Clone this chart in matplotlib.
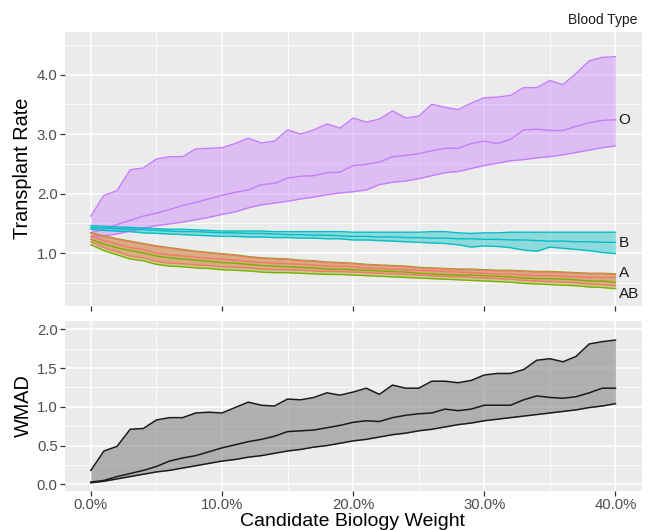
import matplotlib
matplotlib.use("Agg")
import matplotlib.pyplot as plt
from matplotlib.ticker import FuncFormatter, MultipleLocator

plt.rcParams['font.family'] = ['Liberation Sans', 'DejaVu Sans']

# candidate biology weight (fraction)
weight = [i / 100 for i in range(41)]

# Transplant rate ribbons (lower, mid, upper) per blood type
o_hi = [1.62, 1.97, 2.05, 2.40, 2.43, 2.58, 2.62, 2.62, 2.75, 2.76, 2.77, 2.84, 2.93, 2.85,
        2.88, 3.07, 3.00, 3.07, 3.17, 3.10, 3.27, 3.20, 3.25, 3.39, 3.27, 3.30, 3.50, 3.45,
        3.41, 3.52, 3.61, 3.62, 3.65, 3.78, 3.78, 3.90, 3.83, 4.02, 4.23, 4.29, 4.30]
o_mid = [1.34, 1.40, 1.48, 1.55, 1.62, 1.67, 1.73, 1.80, 1.85, 1.91, 1.97, 2.02, 2.06, 2.15,
         2.17, 2.26, 2.29, 2.30, 2.35, 2.36, 2.47, 2.49, 2.53, 2.62, 2.64, 2.67, 2.72, 2.76,
         2.76, 2.84, 2.88, 2.84, 2.91, 3.07, 3.08, 3.06, 3.06, 3.13, 3.19, 3.23, 3.24]
o_lo = [1.27, 1.29, 1.32, 1.37, 1.42, 1.46, 1.49, 1.52, 1.56, 1.60, 1.65, 1.69, 1.76, 1.81,
        1.84, 1.87, 1.91, 1.94, 1.98, 2.01, 2.03, 2.06, 2.15, 2.19, 2.21, 2.25, 2.30, 2.35,
        2.37, 2.42, 2.47, 2.51, 2.55, 2.57, 2.60, 2.62, 2.65, 2.69, 2.73, 2.77, 2.80]

b_hi = [1.46, 1.45, 1.44, 1.43, 1.42, 1.41, 1.40, 1.40, 1.39, 1.38, 1.37, 1.37, 1.37, 1.37,
        1.36, 1.36, 1.36, 1.36, 1.36, 1.36, 1.35, 1.35, 1.35, 1.35, 1.35, 1.35, 1.36, 1.36,
        1.34, 1.33, 1.34, 1.34, 1.35, 1.35, 1.35, 1.35, 1.35, 1.35, 1.35, 1.35, 1.35]
b_mid = [1.43, 1.42, 1.41, 1.40, 1.39, 1.38, 1.37, 1.36, 1.36, 1.35, 1.34, 1.34, 1.33, 1.33,
         1.32, 1.31, 1.31, 1.30, 1.30, 1.29, 1.28, 1.28, 1.27, 1.27, 1.26, 1.26, 1.25, 1.25,
         1.24, 1.24, 1.23, 1.23, 1.22, 1.22, 1.21, 1.20, 1.20, 1.19, 1.19, 1.18, 1.18]
b_lo = [1.40, 1.38, 1.37, 1.36, 1.34, 1.33, 1.32, 1.31, 1.30, 1.29, 1.28, 1.28, 1.27, 1.27,
        1.26, 1.26, 1.25, 1.25, 1.24, 1.24, 1.22, 1.22, 1.21, 1.20, 1.19, 1.18, 1.17, 1.16,
        1.14, 1.10, 1.12, 1.11, 1.09, 1.05, 1.03, 1.10, 1.08, 1.06, 1.04, 1.01, 0.99]

a_hi = [1.33, 1.28, 1.23, 1.19, 1.15, 1.11, 1.08, 1.05, 1.02, 1.00, 0.98, 0.96, 0.93, 0.91,
        0.90, 0.89, 0.87, 0.86, 0.84, 0.83, 0.82, 0.80, 0.79, 0.78, 0.77, 0.75, 0.74, 0.73,
        0.72, 0.72, 0.71, 0.70, 0.70, 0.69, 0.68, 0.68, 0.67, 0.66, 0.65, 0.65, 0.64]
a_mid = [1.28, 1.21, 1.15, 1.09, 1.06, 1.00, 0.97, 0.95, 0.93, 0.91, 0.90, 0.88, 0.86, 0.84,
         0.83, 0.82, 0.81, 0.80, 0.78, 0.78, 0.77, 0.75, 0.74, 0.73, 0.72, 0.71, 0.70, 0.69,
         0.68, 0.67, 0.66, 0.65, 0.65, 0.63, 0.62, 0.62, 0.61, 0.60, 0.59, 0.59, 0.59]
a_lo = [1.19, 1.09, 1.02, 0.95, 0.92, 0.86, 0.83, 0.82, 0.80, 0.79, 0.77, 0.76, 0.75, 0.73,
        0.72, 0.72, 0.71, 0.70, 0.69, 0.69, 0.68, 0.67, 0.66, 0.65, 0.64, 0.63, 0.62, 0.61,
        0.60, 0.59, 0.58, 0.57, 0.56, 0.54, 0.53, 0.52, 0.51, 0.50, 0.48, 0.47, 0.45]

ab_hi = [1.34, 1.29, 1.24, 1.20, 1.16, 1.12, 1.09, 1.06, 1.03, 1.01, 0.99, 0.97, 0.94, 0.92,
         0.91, 0.90, 0.88, 0.87, 0.85, 0.84, 0.83, 0.81, 0.80, 0.79, 0.78, 0.76, 0.75, 0.74,
         0.73, 0.73, 0.72, 0.71, 0.71, 0.70, 0.69, 0.69, 0.68, 0.67, 0.66, 0.66, 0.65]
ab_mid = [1.23, 1.15, 1.09, 1.04, 1.00, 0.95, 0.92, 0.90, 0.88, 0.86, 0.84, 0.83, 0.81, 0.79,
          0.78, 0.77, 0.76, 0.75, 0.73, 0.73, 0.72, 0.71, 0.70, 0.69, 0.68, 0.66, 0.65, 0.64,
          0.63, 0.63, 0.62, 0.61, 0.60, 0.58, 0.57, 0.57, 0.56, 0.55, 0.53, 0.53, 0.51]
ab_lo = [1.14, 1.04, 0.97, 0.90, 0.87, 0.81, 0.78, 0.77, 0.75, 0.74, 0.72, 0.71, 0.70, 0.68,
         0.67, 0.67, 0.66, 0.65, 0.64, 0.64, 0.63, 0.62, 0.61, 0.60, 0.59, 0.58, 0.57, 0.56,
         0.55, 0.54, 0.53, 0.52, 0.51, 0.49, 0.48, 0.47, 0.46, 0.45, 0.43, 0.42, 0.40]

# WMAD ribbon
w_hi = [0.18, 0.43, 0.49, 0.71, 0.72, 0.83, 0.86, 0.86, 0.92, 0.93, 0.92, 0.99, 1.06, 1.02,
        1.01, 1.10, 1.09, 1.12, 1.18, 1.15, 1.19, 1.24, 1.16, 1.28, 1.24, 1.24, 1.33, 1.33,
        1.31, 1.34, 1.41, 1.43, 1.43, 1.48, 1.60, 1.62, 1.58, 1.65, 1.81, 1.84, 1.86]
w_mid = [0.03, 0.05, 0.10, 0.14, 0.18, 0.23, 0.30, 0.34, 0.37, 0.42, 0.47, 0.51, 0.55, 0.58,
         0.62, 0.68, 0.69, 0.70, 0.73, 0.76, 0.80, 0.82, 0.81, 0.86, 0.89, 0.91, 0.92, 0.97,
         0.95, 0.97, 1.02, 1.02, 1.02, 1.09, 1.14, 1.12, 1.11, 1.13, 1.18, 1.24, 1.24]
w_lo = [0.02, 0.04, 0.07, 0.10, 0.13, 0.16, 0.18, 0.21, 0.24, 0.27, 0.30, 0.32, 0.35, 0.37,
        0.40, 0.43, 0.45, 0.48, 0.50, 0.53, 0.56, 0.58, 0.61, 0.64, 0.66, 0.69, 0.71, 0.74,
        0.77, 0.79, 0.82, 0.84, 0.86, 0.88, 0.90, 0.92, 0.94, 0.96, 0.99, 1.01, 1.04]

groups = ["O", "B", "AB", "A"]
colors = {"A": "#F8766D", "AB": "#7CAE00", "B": "#00BFC4", "O": "#C77CFF"}
ribbons = {"O": (o_lo, o_mid, o_hi), "B": (b_lo, b_mid, b_hi),
           "A": (a_lo, a_mid, a_hi), "AB": (ab_lo, ab_mid, ab_hi)}
label_y = {"O": 3.24, "B": 1.17, "A": 0.67, "AB": 0.32}

W, H = 648, 530
fig = plt.figure(figsize=(W / 100, H / 100), dpi=100)
ax1 = fig.add_axes([64.6 / W, 1 - 306 / H, (641.7 - 64.6) / W, (306 - 31.7) / H])
ax2 = fig.add_axes([64.6 / W, 1 - 490.7 / H, (641.7 - 64.6) / W, (490.7 - 320.7) / H])


def style(ax):
    ax.set_facecolor("#EBEBEB")
    for s in ax.spines.values():
        s.set_visible(False)
    ax.set_xlim(-0.02, 0.42)
    ax.xaxis.set_major_locator(MultipleLocator(0.1))
    ax.xaxis.set_minor_locator(MultipleLocator(0.05))
    ax.grid(which="major", color="white", linewidth=1.1)
    ax.grid(which="minor", color="white", linewidth=0.55)
    ax.set_axisbelow(True)
    ax.tick_params(which="major", length=3.5, width=0.9, color="#333333",
                   labelsize=10.7, labelcolor="#4D4D4D", pad=1.5)
    ax.tick_params(which="minor", length=0)


style(ax1)
style(ax2)

for g in groups:
    lo, mid, hi = ribbons[g]
    c = colors[g]
    ax1.fill_between(weight, lo, hi, color=c, alpha=0.4, linewidth=0)
    ax1.plot(weight, lo, color=c, linewidth=1.0)
    ax1.plot(weight, hi, color=c, linewidth=1.0)
    ax1.plot(weight, mid, color=c, linewidth=1.0)
    ax1.text(0.4025, label_y[g], g, fontsize=11, color="#1A1A1A", ha="left", va="center")

ax1.set_ylim(0.11, 4.72)
ax1.yaxis.set_major_locator(MultipleLocator(1.0))
ax1.yaxis.set_minor_locator(MultipleLocator(0.5))
ax1.yaxis.set_major_formatter(FuncFormatter(lambda v, p: f"{v:.1f}"))
ax1.tick_params(axis="x", labelbottom=False)

ax2.fill_between(weight, w_lo, w_hi, color="#7F7F7F", alpha=0.55, linewidth=0)
ax2.plot(weight, w_lo, color="#1A1A1A", linewidth=1.1)
ax2.plot(weight, w_hi, color="#1A1A1A", linewidth=1.1)
ax2.plot(weight, w_mid, color="#1A1A1A", linewidth=1.1)
ax2.set_ylim(-0.082, 2.11)
ax2.yaxis.set_major_locator(MultipleLocator(0.5))
ax2.yaxis.set_minor_locator(MultipleLocator(0.25))
ax2.yaxis.set_major_formatter(FuncFormatter(lambda v, p: f"{v:.1f}"))
ax2.xaxis.set_major_formatter(FuncFormatter(lambda v, p: f"{v * 100:.1f}%"))

fig.text(23 / W, 1 - 168 / H, "Transplant Rate", rotation=90, fontsize=14.3,
         ha="center", va="center", color="black")
fig.text(23 / W, 1 - 406 / H, "WMAD", rotation=90, fontsize=14.3,
         ha="center", va="center", color="black")
fig.text(352 / W, 1 - 522 / H, "Candidate Biology Weight", fontsize=14,
         ha="center", va="center", color="black")
fig.text(637 / W, 1 - 20 / H, "Blood Type", fontsize=10, ha="right", va="center",
         color="#1A1A1A")

fig.savefig("out.png", dpi=100)
